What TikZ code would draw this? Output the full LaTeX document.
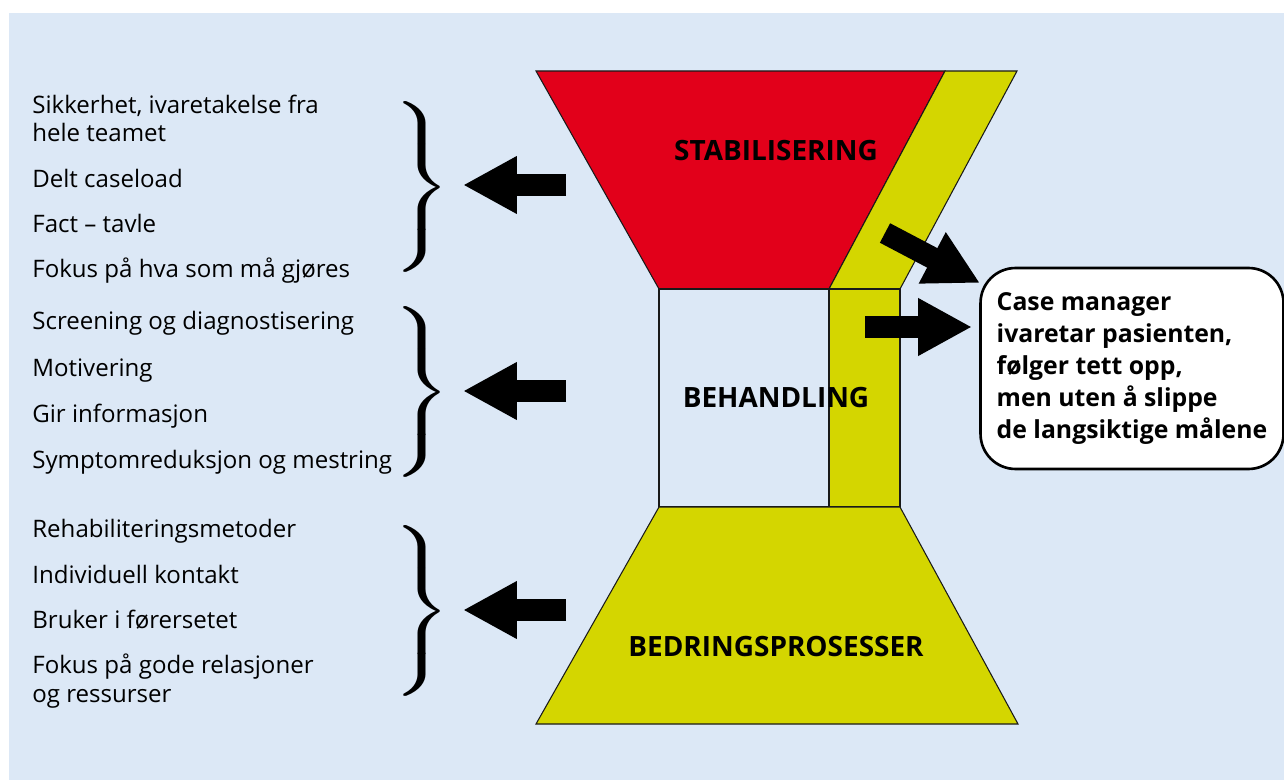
\documentclass[tikz,border=0pt]{standalone}
\usepackage{amsmath}
\usepackage{fontspec}
\setmainfont{Open Sans}
\usetikzlibrary{arrows.meta}

\definecolor{bgblue}{RGB}{220,232,246}
\definecolor{stabred}{RGB}{226,0,26}
\definecolor{bedyellow}{RGB}{212,214,0}

\tikzset{
	item/.style={anchor=base west, inner sep=0pt, align=left, font=\fontsize{13.7}{16.5}\selectfont},
	title/.style={anchor=base, inner sep=0pt, font=\fontsize{15.9}{19}\selectfont\bfseries},
	part/.style={draw=black!90, line width=0.6pt},
	blockarrow/.style={line width=0.44cm, -{Triangle[length=1.08cm, width=1.08cm]}},
	bracket/.style={anchor=east, inner sep=0pt, font=\fontsize{26}{30}\selectfont}
}
\newcommand{\bigbrace}{\scalebox{1.52}[1.09]{$\left.\vcenter{\hbox{\rule{0pt}{3.3cm}}}\right\}$}}

\begin{document}
\begin{tikzpicture}[x=0.02cm, y=-0.02cm]
	\useasboundingbox (0,0) rectangle (1284,780);
	\fill [white] (0,0) rectangle (1284,780);
	\fill [bgblue] (9,13) rectangle (1284,780);
	
	% hourglass
	\fill [stabred, part] (536,71) -- (945,71) -- (829,289) -- (659,289) -- cycle;
	\fill [bedyellow, part] (945,71) -- (1017,71) -- (900,289) -- (829,289) -- cycle;
	\draw [part] (659,289) rectangle (900,507);
	\fill [bedyellow, part] (829,289) rectangle (900,507);
	\fill [bedyellow, part] (659,507) -- (900,507) -- (1018,724) -- (536,724) -- cycle;
	
	\node (stab) [title] at (776,161) {STABILISERING};
	\node (beh)  [title] at (776,407) {BEHANDLING};
	\node (bed)  [title] at (776,656) {BEDRINGSPROSESSER};
	
	% left lists (two-line items sit on their last line)
	\node (s1) [item] at (32,142) {Sikkerhet, ivaretakelse fra\\hele teamet};
	\node (s2) [item] at (32,188) {Delt caseload};
	\node (s3) [item] at (32,233) {Fact -- tavle};
	\node (s4) [item] at (32,278) {Fokus på hva som må gjøres};
	
	\node (b1) [item] at (32,330) {Screening og diagnostisering};
	\node (b2) [item] at (32,377) {Motivering};
	\node (b3) [item] at (32,422) {Gir informasjon};
	\node (b4) [item] at (32,468) {Symptomreduksjon og mestring};
	
	\node (r1) [item] at (32,537) {Rehabiliteringsmetoder};
	\node (r2) [item] at (32,583) {Individuell kontakt};
	\node (r3) [item] at (32,628) {Bruker i førersetet};
	\node (r4) [item] at (32,702) {Fokus på gode relasjoner\\og ressurser};
	
	\node (br1) [bracket] at (452,187) {\bigbrace};
	\node (br2) [bracket] at (452,392) {\bigbrace};
	\node (br3) [bracket] at (452,611) {\bigbrace};
	
	% case manager
	\node (cm) [draw, fill=white, line width=1.5pt, rounded corners=0.7cm,
		minimum width=6.06cm, minimum height=4.02cm, align=left,
		font=\fontsize{14.1}{18.2}\selectfont\bfseries] at (1132,368.5)
		{Case manager\\ivaretar pasienten,\\følger tett opp,\\men uten å slippe\\de langsiktige målene};
	
	\coordinate (a1) at (566,185);
	\coordinate (t1) at (463,185);
	\coordinate (a2) at (566,391);
	\coordinate (t2) at (463,391);
	\coordinate (a3) at (566,610);
	\coordinate (t3) at (463,610);
	\coordinate (a4) at (885,233);
	\coordinate (t4) at (980,283);
	\coordinate (a5) at (865,327);
	\coordinate (t5) at (972,327);
	
	\path [blockarrow]
	(a1) edge (t1)
	(a2) edge (t2)
	(a3) edge (t3)
	(a4) edge (t4)
	(a5) edge (t5);
\end{tikzpicture}
\end{document}
